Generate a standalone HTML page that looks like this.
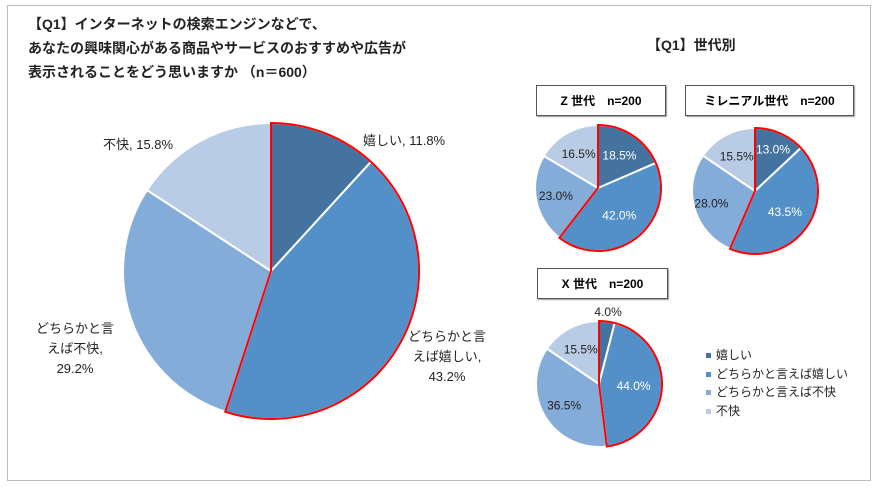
<!DOCTYPE html>
<html><head><meta charset="utf-8"><style>
body{margin:0;background:#fff;font-family:"Liberation Sans","Noto Sans CJK JP",sans-serif;}
#wrap{position:relative;width:878px;height:487px;overflow:hidden;}
.t{position:absolute;font-size:12px;color:#222;white-space:nowrap;}
.box{position:absolute;border:1px solid #555;box-shadow:1px 1px 1px #999;font-weight:bold;font-size:12px;display:flex;align-items:center;justify-content:center;background:#fff;}
</style></head><body>
<div id="wrap">
<div style="position:absolute;left:7px;top:5px;width:862px;height:474px;border:1px solid #bbb;"></div>
<div class="t" style="left:28px;top:12px;font-size:14px;font-weight:bold;line-height:24px;color:#222">【Q1】インターネットの検索エンジンなどで、<br>あなたの興味関心がある商品やサービスのおすすめや広告が<br>表示されることをどう思いますか （n＝600）</div>
<div class="t" style="left:647px;top:35px;font-size:14px;font-weight:bold">【Q1】世代別</div>
<div class="box" style="left:536px;top:85px;width:128px;height:29px">Z 世代　n=200</div>
<div class="box" style="left:685px;top:85px;width:167px;height:29px">ミレニアル世代　n=200</div>
<div class="box" style="left:537px;top:268px;width:129px;height:29px">X 世代　n=200</div>
<svg id="svg" width="878" height="487" style="position:absolute;left:0;top:0"></svg>
<div class="t" style="left:363px;top:130px;font-size:13px">嬉しい, 11.8%</div>
<div class="t" style="left:103px;top:134px;font-size:13px">不快, 15.8%</div>
<div class="t" style="left:36px;top:319px;text-align:center;line-height:20px;font-size:13px">どちらかと言<br>えば不快,<br>29.2%</div>
<div class="t" style="left:408px;top:327px;text-align:center;line-height:20px;font-size:13px">どちらかと言<br>えば嬉しい,<br>43.2%</div>
<div id="legend"></div>
</div>
<script>
const categories=["嬉しい","どちらかと言えば嬉しい","どちらかと言えば不快","不快"];
const mainValues=[11.8,43.2,29.2,15.8];
const zValues=[18.5,42.0,23.0,16.5];
const mValues=[13.0,43.5,28.0,15.5];
const xValues=[4.0,44.0,36.5,15.5];
const colors=["#44739f","#5490c8","#84acd9","#b9cce6"];
const svg=document.getElementById('svg');
const NS="http://www.w3.org/2000/svg";
function pt(cx,cy,r,a){return [cx+r*Math.sin(a),cy-r*Math.cos(a)];}
function arc(cx,cy,r,a0,a1){const p0=pt(cx,cy,r,a0),p1=pt(cx,cy,r,a1);const l=(a1-a0)>Math.PI?1:0;
return `M${cx},${cy}L${p0[0]},${p0[1]}A${r},${r} 0 ${l} 1 ${p1[0]},${p1[1]}Z`;}
function pie(name,vals,cx,cy,r,labels,lpos){
 const tot=vals.reduce((a,b)=>a+b,0);let a=0;const angs=[];
 vals.forEach((v,i)=>{const a1=a+v/tot*2*Math.PI;angs.push([a,a1]);
  const p=document.createElementNS(NS,'path');p.setAttribute('d',arc(cx,cy,r,a,a1));
  p.setAttribute('fill',colors[i]);p.setAttribute('stroke','#fff');p.setAttribute('stroke-width','2');
  
  
  svg.appendChild(p);a=a1;});
 const o=document.createElementNS(NS,'path');o.setAttribute('d',arc(cx,cy,r,0,angs[1][1]));
 o.setAttribute('fill','none');o.setAttribute('stroke','#ff0000');o.setAttribute('stroke-width','2');
 
 
 svg.appendChild(o);
 if(labels){vals.forEach((v,i)=>{const t=document.createElementNS(NS,'text');
  const m=(angs[i][0]+angs[i][1])/2;let p=pt(cx,cy,r*(lpos[i]||0.62),m);
  t.setAttribute('x',p[0]);t.setAttribute('y',p[1]+4);t.setAttribute('text-anchor','middle');
  t.setAttribute('font-size','12');t.setAttribute('font-family','Liberation Sans, sans-serif');
  t.setAttribute('fill',(i<2)?'#fff':'#222');if(i==0&&v<6){t.setAttribute('fill','#222');}
  t.textContent=v.toFixed(1)+'%';
  
  
  svg.appendChild(t);});}
}
pie('main-pie',mainValues,271,271,148,false);
pie('z-pie',zValues,598,188,63,true,[0.62,0.55,0.68,0.62]);
pie('m-pie',mValues,755,191,63,true,[0.72,0.58,0.72,0.62]);
pie('x-pie',xValues,599,384,63,true,[1.15,0.55,0.65,0.62]);
const lg=document.getElementById('legend');
categories.forEach((c,i)=>{const d=document.createElement('div');d.className='t';
 d.style.left='706px';d.style.top=(346+i*18.5)+'px';
 d.innerHTML=`<span style="display:inline-block;width:5px;height:5px;background:${colors[i]};margin-right:5px;vertical-align:middle"></span>${c}`;
 
 
 lg.appendChild(d);});
</script>
</body></html>
